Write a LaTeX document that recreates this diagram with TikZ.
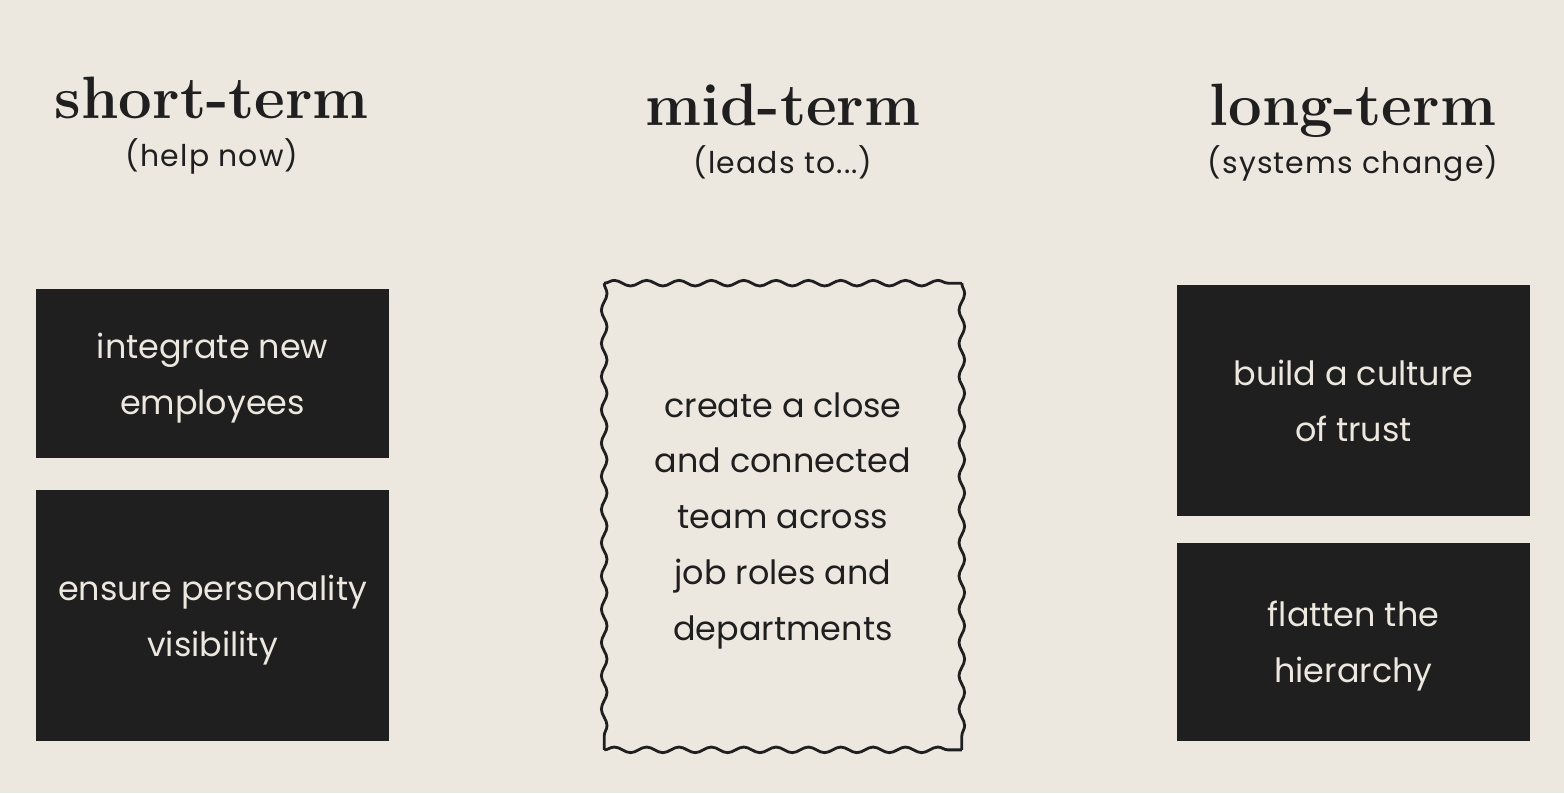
\documentclass[tikz,border=0pt]{standalone}
\usepackage{fontspec}
\setmainfont{Poppins}
\newfontfamily\headfont{Latin Modern Roman}
\newfontfamily\subfont[LetterSpace=4]{Poppins}
\usetikzlibrary{decorations.pathmorphing}
\definecolor{paper}{HTML}{ECE7DF}
\definecolor{ink}{HTML}{1F1F1F}
\tikzset{every node/.style={align=center, inner sep=0pt}}
\tikzset{head/.style={anchor=base, font=\headfont\bfseries\fontsize{17}{20}\selectfont, text=ink}}
\tikzset{sub/.style={anchor=base, font=\subfont\fontsize{8.5}{11}\selectfont, text=ink}}
\tikzset{boxtext/.style={font=\fontsize{9.5}{15.9}\selectfont, text depth=-1.6pt}}
\tikzset{card/.style={boxtext, fill=ink, text=paper, minimum width=3.53cm}}
\tikzset{open/.style={boxtext, text=ink, minimum width=3.56cm, minimum height=4.65cm}}
\tikzset{wavyh/.style={draw=ink, line width=0.8pt, decorate, decoration={snake, segment length=9.2pt, amplitude=0.8pt}}}
\tikzset{wavyv/.style={draw=ink, line width=0.8pt, decorate, decoration={snake, segment length=9.45pt, amplitude=0.8pt}}}

\begin{document}
\begin{tikzpicture}[x=0.01cm, y=-0.01cm]
\fill[paper] (0,0) rectangle (1564,793);
\useasboundingbox (0,0) rectangle (1564,793);
% headers
\node[head] (sthead) at (212,118) {short-term};
\node[sub] (stsub) at (212,166) {(help now)};
\node[head] (mthead) at (783,125) {mid-term};
\node[sub] (mtsub) at (783,173) {(leads to...)};
\node[head] (lthead) at (1353,125) {long-term};
\node[sub] (ltsub) at (1353,173) {(systems change)};
% short-term
\node[card, minimum height=1.69cm] (st1) at (212.5,373.5) {integrate new\\employees};
\node[card, minimum height=2.51cm] (st2) at (212.5,615.5) {ensure personality\\visibility};
% mid-term
\node[open] (mt) at (783,516.5) {create a close\\and connected\\team across\\job roles and\\departments};
\draw[wavyh] (mt.north west) -- (mt.north east);
\draw[wavyh] (mt.south west) -- (mt.south east);
\draw[wavyv] (mt.north west) -- (mt.south west);
\draw[wavyv] (mt.north east) -- (mt.south east);
% long-term
\node[card, minimum height=2.31cm] (lt1) at (1353.5,400.5) {build a culture\\of trust};
\node[card, minimum height=1.98cm] (lt2) at (1353.5,642) {flatten the\\hierarchy};
\end{tikzpicture}
\end{document}
